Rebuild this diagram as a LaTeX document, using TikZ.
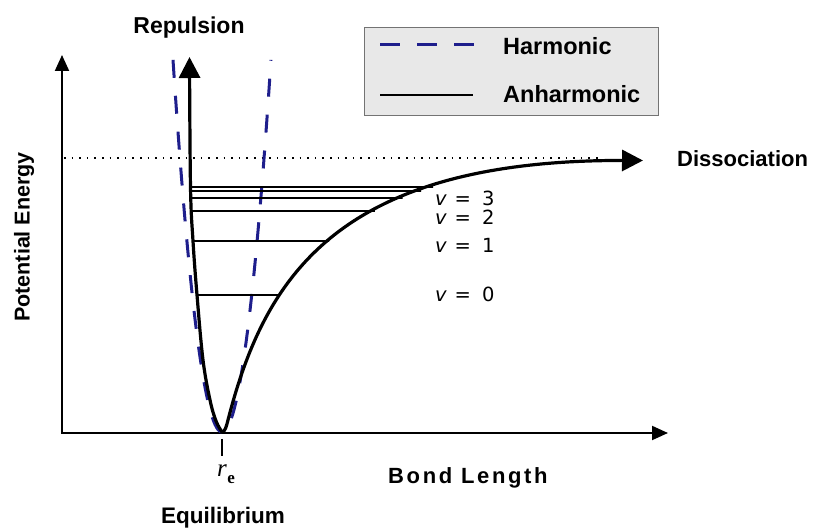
\documentclass[tikz,border=0pt]{standalone}
\usepackage{fontspec}
\setmainfont{Liberation Sans}
\newfontfamily\dejavu{DejaVu Sans}
\newfontfamily\tnr{Liberation Serif}
\usetikzlibrary{arrows.meta,intersections}
\definecolor{harmblue}{RGB}{30,30,140}
\definecolor{legendfill}{RGB}{232,232,232}
\begin{document}
\begin{tikzpicture}[x=1pt,y=-1pt,
  lbl/.style={font=\bfseries\fontsize{22}{24}\selectfont, inner sep=0pt},
  axisline/.style={line width=2pt, {Triangle[length=16pt,width=14pt]}-{Triangle[length=16pt,width=14pt]}},
  anh/.style={line width=3.2pt, line join=round, line cap=round},
  bigtip/.style={-{Triangle[length=21pt,width=21pt]}},
  harm/.style={line width=3pt, harmblue, dash pattern=on 18pt off 18pt},
  lvl/.style={line width=1.8pt},
  vlab/.style={font=\dejavu\fontsize{19.5}{20}\selectfont, anchor=west, inner sep=0pt}
]
\useasboundingbox (0,0) rectangle (815,529);
\fill[white] (0,0) rectangle (815,529);

% axes
\coordinate (O) at (62,433);
\coordinate (ytip) at (62,55);
\coordinate (xtip) at (668,433);
\draw[axisline] (ytip) -- (O) -- (xtip);

% dissociation level (dotted)
\coordinate (dotL) at (64,158);
\coordinate (dotR) at (600,158);
\draw[line width=1.6pt, dash pattern=on 1.6pt off 6pt] (dotL) -- (dotR);

% legend
\node[draw=black!55, fill=legendfill, line width=1pt, minimum width=294pt,
      minimum height=88pt, anchor=north west, inner sep=0pt] (legend) at (364,27) {};
\coordinate (h1) at (380,45);
\coordinate (h2) at (474,45);
\coordinate (a1) at (380,95);
\coordinate (a2) at (473,95);
\draw[harm, dash pattern=on 20pt off 17pt] (h1) -- (h2);
\draw[line width=2.6pt] (a1) -- (a2);
\node[lbl, font=\bfseries\fontsize{23.5}{24}\selectfont, anchor=base west] (hlab) at (503,55) {Harmonic};
\node[lbl, font=\bfseries\fontsize{23.5}{24}\selectfont, anchor=base west] (alab) at (503,103) {Anharmonic};

% harmonic parabola
\draw[harm] plot[domain=173:271, samples=80] (\x, {432-0.155*(\x-222)^2});

% anharmonic (Morse-like) curve
\coordinate (min) at (222,432);
\coordinate (reptip) at (189.5,57);
\coordinate (distip) at (643,160.5);
\draw[anh, bigtip, name path=lb]
  plot[smooth, tension=0.6] coordinates {(min) (216,421) (210,400) (203,360) (197,295)
  (193,241) (190.5,187) (reptip)};
\draw[anh, bigtip, name path=rb]
  (min) .. controls (225,432) and (226.5,426) .. (228,420)
        .. controls (264,280) and (335,160) .. (distip);

% vibrational levels
\foreach \i/\yy in {0/295,1/241,2/211,3/198,4/191,5/187}{
  \path[name path=hl\i] (150,\yy) -- (700,\yy);
  \path[name intersections={of=lb and hl\i, by={L\i}}];
  \path[name intersections={of=rb and hl\i, by={R\i}}];
  \draw[lvl] (L\i) -- (R\i);
}

\node[vlab] (v3) at (435,198) {\itshape v\upshape\hspace{8pt}=\hspace{11pt}3};
\node[vlab] (v2) at (435,217) {\itshape v\upshape\hspace{8pt}=\hspace{11pt}2};
\node[vlab] (v1) at (435,245) {\itshape v\upshape\hspace{8pt}=\hspace{11pt}1};
\node[vlab] (v0) at (435,294) {\itshape v\upshape\hspace{8pt}=\hspace{11pt}0};

% labels
\node[lbl, font=\bfseries\fontsize{23}{24}\selectfont, anchor=base] (rep) at (189,34) {Repulsion};
\node[lbl, anchor=base west] (dis) at (677,167) {Dissociation};
\node[lbl, anchor=base west, font=\bfseries\fontsize{22}{24}\selectfont\addfontfeature{LetterSpace=12}] (bond) at (388,484) {Bond Length};
\node[lbl, anchor=base, font=\bfseries\fontsize{22.5}{24}\selectfont] (equ) at (223,524) {Equilibrium};
\node[lbl, rotate=90, font=\bfseries\fontsize{21.5}{24}\selectfont] (pe) at (24,237) {Potential Energy};

% r_e tick and label
\coordinate (t1) at (222,439);
\coordinate (t2) at (222,456);
\draw[line width=1.6pt] (t1) -- (t2);
\node[anchor=base, inner sep=0pt] (re) at (226,477)
  {\tnr\fontsize{25}{25}\selectfont\itshape r\kern0.5pt\raisebox{-7pt}{\fontsize{17}{17}\selectfont\upshape\bfseries e}};
\end{tikzpicture}
\end{document}
